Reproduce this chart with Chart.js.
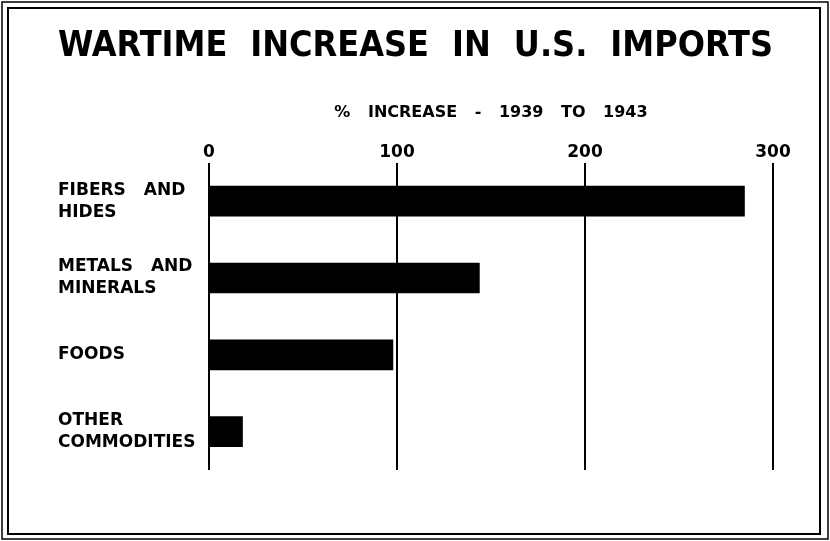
<!DOCTYPE html>
<html>
<head>
<meta charset="utf-8">
<script src="https://cdn.jsdelivr.net/npm/chart.js@4/dist/chart.umd.min.js"></script>
<style>
  html, body { margin: 0; padding: 0; background: #fff; }
  #wrap { width: 830px; height: 541px; }
</style>
</head>
<body>
<div id="wrap"><canvas id="chart"></canvas></div>
<script>
// data
const categories = [
  ["FIBERS AND", "HIDES"],
  ["METALS AND", "MINERALS"],
  ["FOODS"],
  ["OTHER", "COMMODITIES"]
];
const increasePct = [285, 144, 98, 18];
const tickValues = [0, 100, 200, 300];

const titleText = "WARTIME INCREASE IN U.S. IMPORTS";
const axisTitle = "% INCREASE - 1939 TO 1943";

const INK = "#000";
const FONT = "'DejaVu Sans', sans-serif";
const FONT_COND = "'DejaVu Sans Condensed', 'DejaVu Sans', sans-serif";

// lettering on the original has wide gaps between words
function setSpacing(chart) {
  chart.ctx.wordSpacing = "12px";
}

// white page + the double frame round it
const framePlugin = {
  id: "frame",
  beforeUpdate(chart) { setSpacing(chart); },
  beforeDraw(chart) {
    const ctx = chart.ctx;
    setSpacing(chart);
    ctx.save();
    ctx.fillStyle = "#fff";
    ctx.fillRect(0, 0, chart.width, chart.height);
    ctx.restore();
  },
  afterDraw(chart) {
    const ctx = chart.ctx;
    ctx.save();
    ctx.strokeStyle = INK;
    ctx.lineWidth = 1.5;
    ctx.strokeRect(2, 2, chart.width - 4, chart.height - 4);
    ctx.lineWidth = 2;
    ctx.strokeRect(8, 8, chart.width - 18, chart.height - 15);
    ctx.restore();
  }
};

new Chart(document.getElementById("chart"), {
  type: "bar",
  data: {
    labels: categories,
    datasets: [{
      data: increasePct,
      backgroundColor: INK,
      borderWidth: 0,
      barPercentage: 1,
      categoryPercentage: 0.4
    }]
  },
  options: {
    indexAxis: "y",
    responsive: true,
    maintainAspectRatio: false,
    animation: false,
    layout: { padding: { left: 58, right: 57, top: 15, bottom: 71 } },
    plugins: {
      legend: { display: false },
      tooltip: { enabled: false },
      title: {
        display: true,
        text: titleText,
        color: INK,
        font: { family: FONT_COND, size: 36, weight: "bold" },
        padding: { top: 10, bottom: 35 }
      }
    },
    scales: {
      x: {
        position: "top",
        min: 0,
        max: 300,
        afterBuildTicks(scale) {
          scale.ticks = tickValues.map(v => ({ value: v }));
        },
        border: { display: false },
        grid: { color: INK, lineWidth: 2, drawTicks: false },
        ticks: {
          color: INK,
          padding: 0,
          font: { family: FONT, size: 17, weight: "bold" }
        },
        title: {
          display: true,
          text: axisTitle,
          color: INK,
          font: { family: FONT, size: 16, weight: "bold" },
          padding: { top: 0, bottom: 20 }
        }
      },
      y: {
        border: { display: false },
        grid: { display: false, drawTicks: false },
        afterFit(scale) { scale.width = 151; },
        ticks: {
          color: INK,
          crossAlign: "far",
          font: { family: FONT, size: 17, weight: "bold", lineHeight: 1.3 }
        }
      }
    }
  },
  plugins: [framePlugin]
});
</script>
</body>
</html>
